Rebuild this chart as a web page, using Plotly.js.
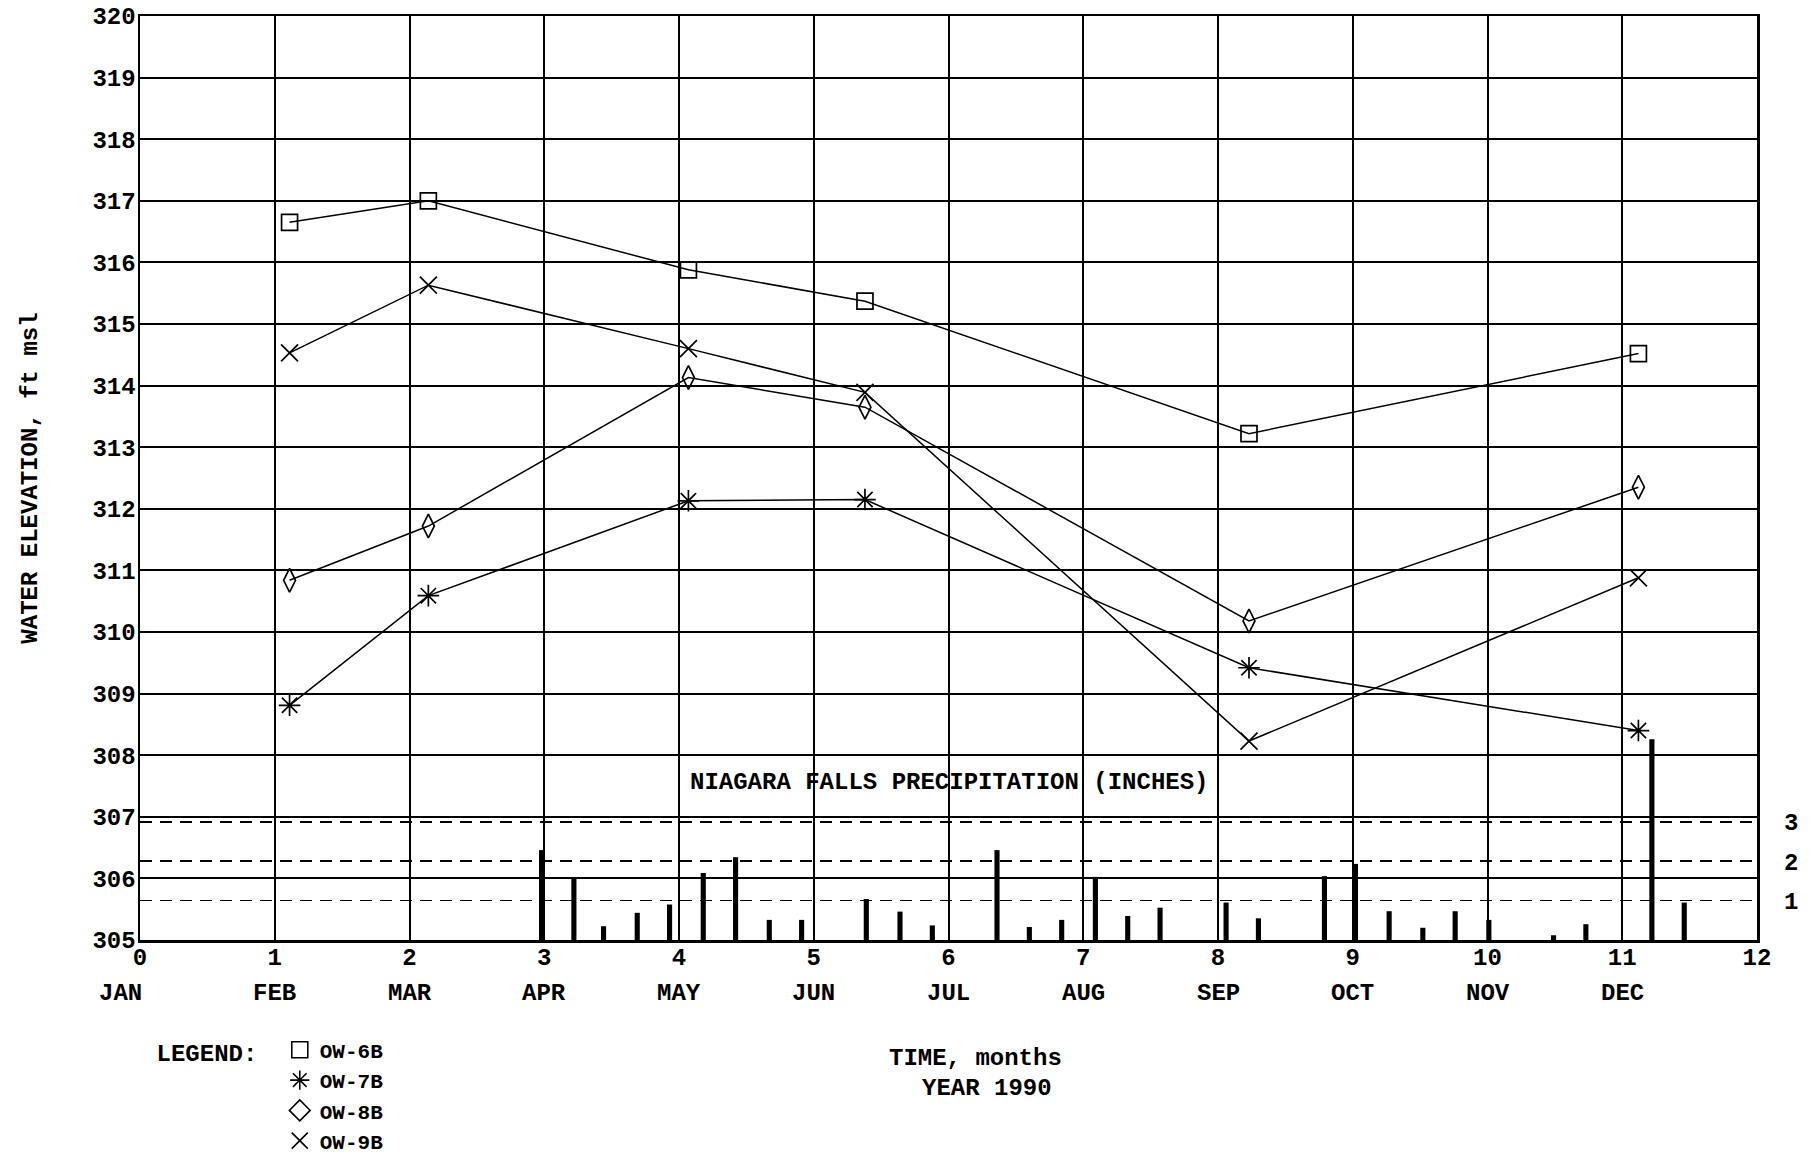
<!DOCTYPE html>
<html>
<head>
<meta charset="utf-8">
<script src="https://cdn.plot.ly/plotly-3.0.1.min.js"></script>
<style>
  html, body { margin: 0; padding: 0; background: #ffffff; }
  #chart { width: 1814px; height: 1160px; }
</style>
</head>
<body>
<div id="chart"></div>
<script>
// ---- data ----
const monthTicks = [0, 1, 2, 3, 4, 5, 6, 7, 8, 9, 10, 11, 12];
const monthTickText = ['0', '1', '2', '3', '4', '5', '6', '7', '8', '9', '10', '11', '12'];
const monthNames = ['JAN', 'FEB', 'MAR', 'APR', 'MAY', 'JUN', 'JUL', 'AUG', 'SEP', 'OCT', 'NOV', 'DEC'];

const sampleTime = [1.11, 2.14, 4.07, 5.38, 8.23, 11.12];
const ow6b = [316.65, 317.00, 315.88, 315.37, 313.22, 314.52];
const ow7b = [308.81, 310.59, 312.13, 312.15, 309.42, 308.40];
const ow8b = [310.84, 311.72, 314.13, 313.65, 310.18, 312.35];
const ow9b = [314.53, 315.63, 314.60, 313.89, 308.23, 310.88];

const precipTime = [2.98, 3.22, 3.44, 3.69, 3.93, 4.18, 4.42, 4.67, 4.91, 5.39,
                    5.64, 5.88, 6.36, 6.60, 6.84, 7.09, 7.33, 7.57, 8.06, 8.30,
                    8.79, 9.02, 9.27, 9.52, 9.76, 10.01, 10.49, 10.73, 11.22, 11.46];
const precipInches = [2.28, 1.57, 0.35, 0.69, 0.90, 1.70, 2.10, 0.51, 0.51, 1.04,
                      0.72, 0.37, 2.28, 0.33, 0.51, 1.60, 0.61, 0.82, 0.95, 0.55,
                      1.62, 1.93, 0.73, 0.31, 0.73, 0.51, 0.12, 0.40, 5.09, 0.95];
const precipTicks = [1, 2, 3];

const seriesNames = ['OW-6B', 'OW-7B', 'OW-8B', 'OW-9B'];
const seriesValues = [ow6b, ow7b, ow8b, ow9b];

// ---- styling ----
const FONT = 'Liberation Mono, DejaVu Sans Mono, monospace';
const TXT = { family: FONT, size: 24, color: '#000', weight: 'bold' };
const symbols = ['square-open', 'asterisk-open', 'diamond-tall-open', 'x-thin-open'];
const symSizes = [16, 18, 17, 17];
const legendSymbols = ['square-open', 'asterisk-open', 'diamond-open', 'x-thin-open'];

const traces = [];
seriesValues.forEach((vals, i) => {
  traces.push({
    type: 'scatter', mode: 'lines+markers',
    x: sampleTime, y: vals, name: seriesNames[i], showlegend: false,
    line: { color: '#000', width: 1.5 },
    marker: { symbol: symbols[i], size: symSizes[i], color: '#000', line: { color: '#000', width: 1.7 } },
    cliponaxis: false
  });
});
// legend entries (marker only)
seriesNames.forEach((nm, i) => {
  traces.push({
    type: 'scatter', mode: 'markers', x: [null], y: [null], name: nm, showlegend: true,
    marker: { symbol: legendSymbols[i], size: 18, color: '#000', line: { color: '#000', width: 1.6 } }
  });
});
traces.push({
  type: 'bar', x: precipTime, y: precipInches, yaxis: 'y2', width: 0.038,
  marker: { color: '#000', line: { width: 0 } }, showlegend: false, name: 'Precipitation'
});

const annotations = monthNames.map((m, i) => ({
  text: m, x: i, xref: 'x', y: -0.058, yref: 'paper', xanchor: 'center', yanchor: 'middle',
  xshift: i === 0 ? -20 : 0, showarrow: false, font: TXT
}));
annotations.push({
  text: 'NIAGARA FALLS PRECIPITATION (INCHES)', x: 6, xref: 'x', y: 307.55, yref: 'y',
  xanchor: 'center', yanchor: 'middle', showarrow: false, font: TXT
});
annotations.push({
  text: 'TIME, months', x: 0.517, xref: 'paper', y: -0.128, yref: 'paper',
  xanchor: 'center', yanchor: 'middle', showarrow: false, font: TXT
});
annotations.push({
  text: 'YEAR 1990', x: 0.524, xref: 'paper', y: -0.161, yref: 'paper',
  xanchor: 'center', yanchor: 'middle', showarrow: false, font: TXT
});

const layout = {
  width: 1814, height: 1160,
  margin: { l: 140, r: 57, t: 16, b: 220, autoexpand: false },
  paper_bgcolor: '#fff', plot_bgcolor: '#fff',
  font: TXT,
  showlegend: true,
  legend: {
    x: 0.009, xanchor: 'left', y: -0.097, yanchor: 'top', orientation: 'v',
    title: { text: 'LEGEND: ', side: 'left', font: { family: FONT, size: 24, color: '#000', weight: 'bold' } },
    font: { family: FONT, size: 21, color: '#000', weight: 'bold' }, tracegroupgap: 0, itemwidth: 30,
    bgcolor: 'rgba(0,0,0,0)'
  },
  xaxis: {
    range: [0, 12], tickvals: monthTicks, ticktext: monthTickText,
    showgrid: true, gridcolor: '#000', gridwidth: 2, zeroline: false,
    showline: true, linecolor: '#000', linewidth: 2.5, mirror: true,
    ticks: '', ticklabelstandoff: -6, tickfont: TXT
  },
  yaxis: {
    range: [305, 320], dtick: 1, tick0: 305,
    showgrid: true, gridcolor: '#000', gridwidth: 2, zeroline: false,
    showline: true, linecolor: '#000', linewidth: 2.5, mirror: true,
    ticks: '', ticklabelstandoff: -3, tickfont: TXT,
    title: { text: 'WATER ELEVATION, ft msl', standoff: 48, font: TXT }
  },
  yaxis2: {
    overlaying: 'y', side: 'right', range: [0, 15 / 0.64],
    tickvals: precipTicks, ticktext: precipTicks.map(String),
    showgrid: true, gridcolor: '#000', gridwidth: 1.6, griddash: '12px,8px',
    zeroline: false, showline: false, ticks: '', ticklabelstandoff: 26,
    tickfont: TXT
  },
  annotations: annotations
};

Plotly.newPlot('chart', traces, layout, { displayModeBar: false, staticPlot: true });
</script>
</body>
</html>
